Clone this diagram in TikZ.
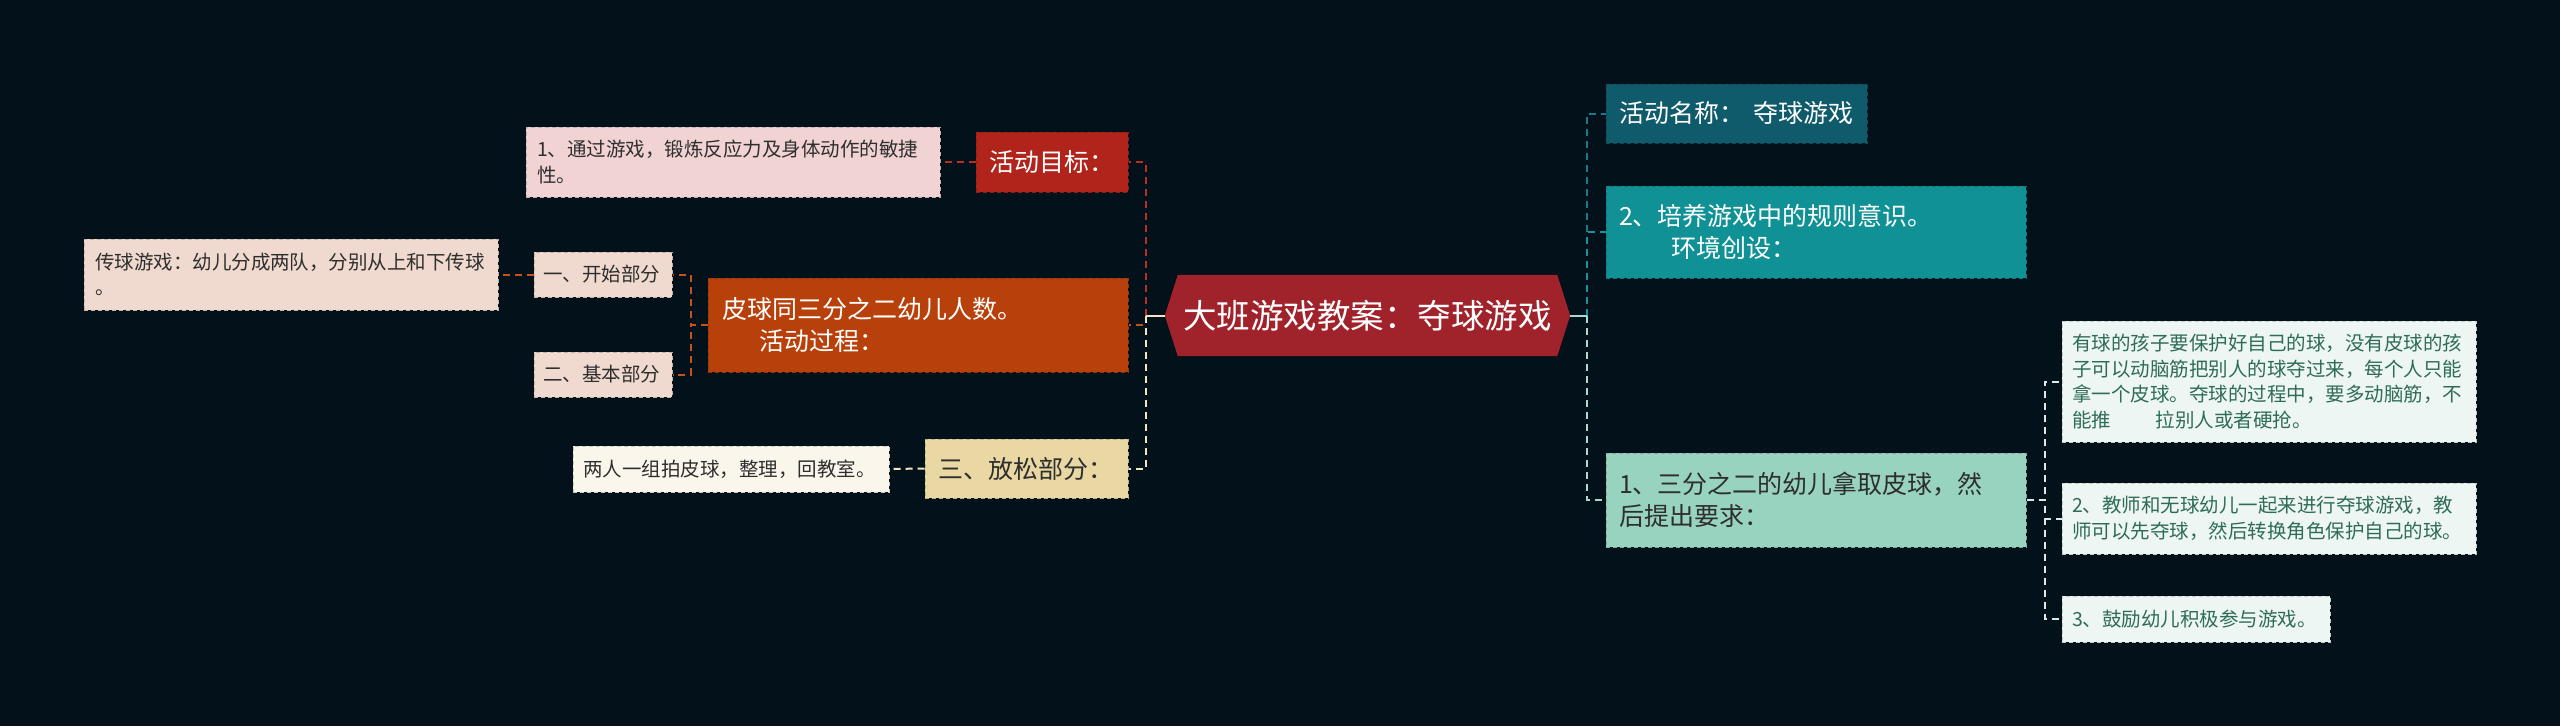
\documentclass[tikz,border=0pt]{standalone}
\usepackage{fontspec}
\setmainfont{Noto Sans CJK SC}
\usetikzlibrary{backgrounds}

\definecolor{bgdark}{HTML}{03111B}
\definecolor{rootred}{HTML}{A0232B}
\definecolor{goalred}{HTML}{B0241B}
\definecolor{procorange}{HTML}{B8410B}
\definecolor{relaxtan}{HTML}{E9D8A3}
\definecolor{goalpink}{HTML}{F0D3D2}
\definecolor{procpeach}{HTML}{F0DACF}
\definecolor{relaxcream}{HTML}{FBF6EC}
\definecolor{nameteal}{HTML}{0F5B6B}
\definecolor{ruleteal}{HTML}{109196}
\definecolor{reqmint}{HTML}{98D3BF}
\definecolor{tipmint}{HTML}{EDF6F2}
\definecolor{tipgreen}{HTML}{2F6C58}
\definecolor{darktext}{HTML}{2E2E2E}
\definecolor{goallink}{HTML}{BE2E22}
\definecolor{proclink}{HTML}{C4541C}
\definecolor{relaxlink}{HTML}{F3E5BD}
\definecolor{namelink}{HTML}{1B7A8A}
\definecolor{rulelink}{HTML}{17939B}
\definecolor{reqlink}{HTML}{A5DCCB}
\definecolor{tiplink}{HTML}{D8EBE4}

\begin{document}
\begin{tikzpicture}[x=1pt,y=-1pt,
  box/.style={rectangle,inner ysep=0pt,align=left,fill=#1,
    draw=#1!82!black,line width=1pt,dash pattern=on 4pt off 3pt},
  lvone/.style={box=#1,font=\fontsize{25}{32}\selectfont},
  leaf/.style={box=#1,font=\fontsize{19.5}{25.5}\selectfont,text=darktext},
  link/.style={draw=#1,line width=2pt,dash pattern=on 7pt off 5pt},
  stub/.style={draw=#1,line width=2pt}]

\begin{scope}[on background layer]
\fill[bgdark] (0,0) rectangle (2560,726);
\end{scope}

\node[font=\fontsize{33.5}{40}\selectfont,text=white,inner xsep=4pt,inner ysep=0pt,
  minimum width=379pt,minimum height=81pt] (root) at (1367.5,315.5) {大班游戏教案：夺球游戏};
\begin{scope}[on background layer]
\fill[rootred] ([xshift=-13pt]root.west) -- (root.north west) -- (root.north east)
  -- ([xshift=13pt]root.east) -- (root.south east) -- (root.south west) -- cycle;
\end{scope}
\coordinate (tipL) at ([xshift=-13pt]root.west);
\coordinate (tipR) at ([xshift=13pt]root.east);
\coordinate (trunkL) at ([xshift=-19pt]tipL);
\coordinate (trunkR) at ([xshift=17pt]tipR);

% left side
\node[lvone=goalred,text=white,text width=126pt,inner xsep=13pt,minimum height=60pt] (goal) at (1052,162) {活动目标：};
\node[leaf=goalpink,text width=392pt,inner xsep=11pt,minimum height=70pt] (goaltext) at (733,162) {1、通过游戏，锻炼反应力及身体动作的敏捷\\性。};
\node[lvone=procorange,text=white,text width=392pt,inner xsep=14pt,minimum height=94pt] (proc) at (918,325) {皮球同三分之二幼儿人数。\\\hspace*{1.5em}活动过程：};
\node[leaf=procpeach,text width=120pt,inner xsep=9pt,minimum height=45pt] (part1) at (603,274.5) {一、开始部分};
\node[leaf=procpeach,text width=120pt,inner xsep=9pt,minimum height=45pt] (part2) at (603,374.5) {二、基本部分};
\node[leaf=procpeach,text width=392pt,inner xsep=11pt,minimum height=71pt] (pass) at (291,274.5) {传球游戏：幼儿分成两队，分别从上和下传球\\。};
\node[lvone=relaxtan,text=darktext,text width=177pt,inner xsep=13pt,minimum height=59pt] (relax) at (1026.5,468.5) {三、放松部分：};
\node[leaf=relaxcream,text width=296pt,inner xsep=10pt,minimum height=46pt] (relaxtext) at (731,469) {两人一组拍皮球，整理，回教室。};

% right side
\node[lvone=nameteal,text=white,text width=235pt,inner xsep=13pt,minimum height=59pt] (name) at (1736.5,113.5) {活动名称：\hspace{0.4em}夺球游戏};
\node[lvone=ruleteal,text=white,text width=394pt,inner xsep=13pt,minimum height=92pt] (rule) at (1816,232) {2、培养游戏中的规则意识。\\\hspace*{2.1em}环境创设：};
\node[lvone=reqmint,text=darktext,text width=394pt,inner xsep=13pt,minimum height=94pt] (req) at (1816,500) {1、三分之二的幼儿拿取皮球，然\\后提出要求：};
\node[leaf=tipmint,text=tipgreen,text width=394pt,inner xsep=10pt,minimum height=121pt] (tip1) at (2269,381.5) {有球的孩子要保护好自己的球，没有皮球的孩\\子可以动脑筋把别人的球夺过来，每个人只能\\拿一个皮球。夺球的过程中，要多动脑筋，不\\能推\hspace*{2.3em}拉别人或者硬抢。};
\node[leaf=tipmint,text=tipgreen,text width=394pt,inner xsep=10pt,minimum height=71pt] (tip2) at (2269,518.5) {2、教师和无球幼儿一起来进行夺球游戏，教\\师可以先夺球，然后转换角色保护自己的球。};
\node[leaf=tipmint,text=tipgreen,text width=248pt,inner xsep=10pt,minimum height=46pt] (tip3) at (2196,619) {3、鼓励幼儿积极参与游戏。};

% connectors
\draw[link=goallink] (trunkL) |- (goal.east);
\draw[link=proclink] (trunkL) |- (proc.east);
\draw[link=relaxlink] (trunkL) |- (relax.east);
\draw[stub=relaxlink] (tipL) -- (trunkL);
\draw[link=goallink] (goal.west) -- (goaltext.east);
\draw[link=proclink] (proc.west) -- ++(-17,0) |- (part1.east);
\draw[link=proclink] (proc.west) -- ++(-17,0) |- (part2.east);
\draw[link=proclink] (part1.west) -- (pass.east);
\draw[link=relaxlink] (relax.west) -- (relaxtext.east);

\draw[link=namelink] (trunkR) |- (name.west);
\draw[link=rulelink] (trunkR) |- (rule.west);
\draw[link=reqlink] (trunkR) |- (req.west);
\draw[stub=reqlink] (tipR) -- (trunkR);
\draw[link=tiplink] (req.east) -- ++(18,0) |- (tip1.west);
\draw[link=tiplink] (req.east) -- ++(18,0) |- (tip2.west);
\draw[link=tiplink] (req.east) -- ++(18,0) |- (tip3.west);
\end{tikzpicture}
\end{document}
